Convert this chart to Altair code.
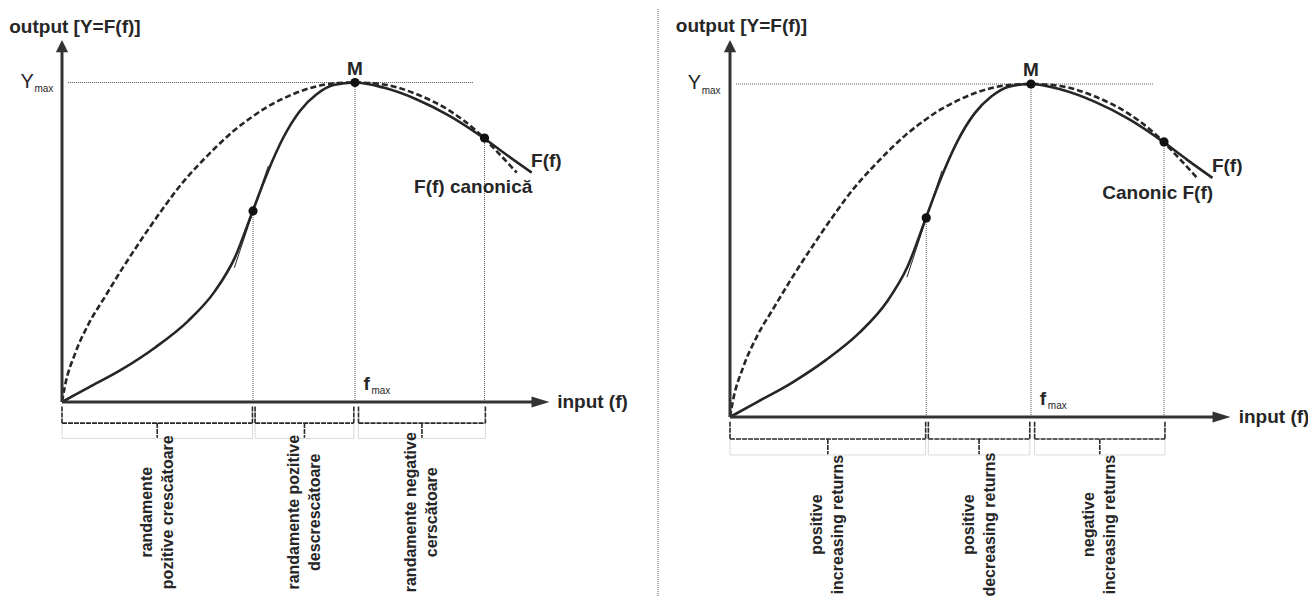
import altair as alt
import pandas as pd

# ---------------- data (units: f_max = 100, Y_max = 100) ----------------
solid_f = [0, 9.0, 20.4, 31.7, 43.1, 52.2, 59.0, 65.1, 69.9, 75.5, 81.2, 86.9, 92.6, 100,
           109.7, 121.1, 132.4, 143.8, 151.8, 160.3]
solid_y = [0, 4.5, 10.2, 17.0, 25.4, 34.7, 45.2, 59.8, 71.3, 82.7, 91.1, 96.3, 99.2, 100,
           98.4, 94.7, 89.5, 82.7, 77.3, 71.8]

canon_f = [0, 1.0, 4.4, 9.0, 14.7, 20.4, 27.2, 35.2, 41.0, 47.1, 52.8, 58.5, 64.2, 69.9,
           75.5, 81.2, 86.9, 92.6, 100, 109.7, 121.1, 132.4, 141.5, 147.2, 155.2]
canon_y = [0, 5.0, 15.0, 24.3, 33.0, 41.5, 51.0, 61.5, 68.5, 74.7, 80.0, 84.8, 88.8, 92.3,
           95.0, 97.2, 98.8, 99.7, 100, 99.4, 96.3, 91.1, 84.8, 79.6, 71.8]

key_f = [65.2, 100.0, 144.2]      # inflection point, M, where F(f) leaves the canonic curve
key_y = [59.8, 100.0, 82.6]

tangent_f = [58.8, 70.4]
tangent_y = [42.0, 73.9]

ymax_line_f = [2.0, 140.5]

brace_start = [0.0, 65.9, 101.2]
brace_end = [65.0, 99.6, 144.5]

labels_ro = ["randamente\npozitive crescătoare",
             "randamente pozitive\ndescrescătoare",
             "randamente negative\ncerscătoare"]
labels_en = ["positive\nincreasing returns",
             "positive\ndecreasing returns",
             "negative\nincreasing returns"]
canon_label_ro = "F(f) canonică"
canon_label_en = "Canonic F(f)"
title_text = "output [Y=F(f)]"
xlabel_text = "input (f)"

# ---------------- layout ----------------
W, H = 650, 588
FONT = "Liberation Sans"
INK = "#262626"
LINE_H = 21
# (origin x px, origin y px, px per f unit, px per Y unit, region-label centre in Y units)
geo_left = (54, 393, 2.93, 3.195, -34.5)
geo_right = (72, 408, 3.01, 3.33, -32.3)


def panel(labels, canon_label, geo, separator=False):
    ox, oy, kx, ky, label_y = geo
    sx = alt.Scale(domain=[-ox / kx, (W - ox) / kx], nice=False, zero=False)
    sy = alt.Scale(domain=[(oy - H) / ky, oy / ky], nice=False, zero=False)

    def X(field="f"):
        return alt.X(f"{field}:Q", scale=sx, axis=None)

    def Y(field="y"):
        return alt.Y(f"{field}:Q", scale=sy, axis=None)

    layers = []

    # dotted Y_max guide
    layers.append(
        alt.Chart(pd.DataFrame({"f": [ymax_line_f[0]], "f2": [ymax_line_f[1]], "y": [100.0]}))
        .mark_rule(color="#555", strokeWidth=1, strokeDash=[1, 1])
        .encode(x=X(), x2="f2", y=Y())
    )
    # dotted verticals from key points
    layers.append(
        alt.Chart(pd.DataFrame({"f": key_f, "y": [0.0] * 3, "y2": key_y}))
        .mark_rule(color="#555", strokeWidth=1, strokeDash=[1, 1])
        .encode(x=X(), y=Y(), y2="y2")
    )
    # canonic curve (dashed)
    layers.append(
        alt.Chart(pd.DataFrame({"f": canon_f, "y": canon_y}))
        .mark_line(color=INK, strokeWidth=2.6, strokeDash=[6, 3], interpolate="monotone")
        .encode(x=X(), y=Y(), order="f:Q")
    )
    # production function (solid)
    layers.append(
        alt.Chart(pd.DataFrame({"f": solid_f, "y": solid_y}))
        .mark_line(color=INK, strokeWidth=2.6, interpolate="monotone")
        .encode(x=X(), y=Y(), order="f:Q")
    )
    # tangent at inflection
    layers.append(
        alt.Chart(pd.DataFrame({"f": tangent_f, "y": tangent_y}))
        .mark_line(color=INK, strokeWidth=1)
        .encode(x=X(), y=Y())
    )
    # axes
    layers.append(
        alt.Chart(pd.DataFrame({"f": [0.0, 0.0], "f2": [0.0, 163.3], "y": [0.0, 0.0], "y2": [111.4, 0.0]}))
        .mark_rule(color="#333", strokeWidth=3)
        .encode(x=X(), x2="f2", y=Y(), y2="y2")
    )
    layers.append(
        alt.Chart(pd.DataFrame({"f": [0.0], "y": [111.4]}))
        .mark_point(shape="M0,-1L1,1L-1,1Z", size=150, filled=True, opacity=1, color="#333", strokeWidth=0)
        .encode(x=X(), y=Y())
    )
    layers.append(
        alt.Chart(pd.DataFrame({"f": [163.3], "y": [0.0]}))
        .mark_point(shape="M1,0L-1,-0.6L-1,0.6Z", size=324, filled=True, opacity=1, color="#333", strokeWidth=0)
        .encode(x=X(), y=Y())
    )
    # key points
    layers.append(
        alt.Chart(pd.DataFrame({"f": key_f, "y": key_y}))
        .mark_point(shape="circle", size=85, filled=True, opacity=1, color="#111", strokeWidth=0)
        .encode(x=X(), y=Y())
    )

    # braces
    top, mid, tip, base = -1.4, -6.6, -11.2, -11.4
    seg = []
    faint = []
    for s, e in zip(brace_start, brace_end):
        m = (s + e) / 2
        seg += [(s, s, top, mid), (e, e, top, mid), (s, e, mid, mid), (m, m, mid, tip)]
        faint += [(s, e, base, base), (s, s, mid, base), (e, e, mid, base)]
    fdf = pd.DataFrame(faint, columns=["f", "f2", "y", "y2"])
    layers.append(
        alt.Chart(fdf).mark_rule(color="#dadada", strokeWidth=1)
        .encode(x=X(), x2="f2", y=Y(), y2="y2")
    )
    sdf = pd.DataFrame(seg, columns=["f", "f2", "y", "y2"])
    layers.append(
        alt.Chart(sdf).mark_rule(color="#2a2a2a", strokeWidth=1.6, strokeDash=[5, 1])
        .encode(x=X(), x2="f2", y=Y(), y2="y2")
    )

    # rotated region labels (two lines, centred under each brace tip)
    mids = [(s + e) / 2 - (LINE_H / 2) / kx for s, e in zip(brace_start, brace_end)]
    layers.append(
        alt.Chart(pd.DataFrame({"f": mids, "y": [label_y] * 3, "t": labels}))
        .mark_text(font=FONT, fontSize=16, fontWeight="bold", color=INK, angle=270,
                   align="center", baseline="middle", lineBreak="\n", lineHeight=LINE_H)
        .encode(x=X(), y=Y(), text="t:N")
    )

    def txt(df, **kw):
        return (alt.Chart(df).mark_text(font=FONT, color=INK, baseline="middle", clip=True, **kw)
                .encode(x=X(), y=Y(), text="t:N"))

    # bold labels aligned left
    layers.append(txt(pd.DataFrame({"f": [-18.0, 102.9, 160.1, 169.0],
                                    "y": [117.3, 5.5, 75.4, 0.0],
                                    "t": [title_text, "f", "F(f)", xlabel_text]}),
                      fontSize=19, fontWeight="bold", align="left"))
    layers.append(txt(pd.DataFrame({"f": [100.0], "y": [104.1], "t": ["M"]}),
                      fontSize=19, fontWeight="bold", align="center"))
    layers.append(txt(pd.DataFrame({"f": [160.5], "y": [67.2], "t": [canon_label]}),
                      fontSize=19, fontWeight="bold", align="right"))
    layers.append(txt(pd.DataFrame({"f": [-9.6], "y": [100.2], "t": ["Y"]}),
                      fontSize=20, align="right"))
    layers.append(txt(pd.DataFrame({"f": [-9.4, 105.6], "y": [97.9, 3.3], "t": ["max", "max"]}),
                      fontSize=10, align="left"))

    if separator:
        layers.append(
            alt.Chart(pd.DataFrame({"a": [0]}))
            .mark_rule(color="#555", strokeWidth=1, strokeDash=[1, 1])
            .encode(x=alt.value(W), y=alt.value(0), y2=alt.value(H))
        )

    return alt.layer(*layers).properties(width=W, height=H)


left = panel(labels_ro, canon_label_ro, geo_left, separator=True)
right = panel(labels_en, canon_label_en, geo_right)

chart = (
    alt.hconcat(left, right, spacing=0, padding=0, bounds="flush", background="white")
    .configure_view(stroke=None)
)

chart.save("out.html", embed_options={"renderer": "svg", "actions": False})
